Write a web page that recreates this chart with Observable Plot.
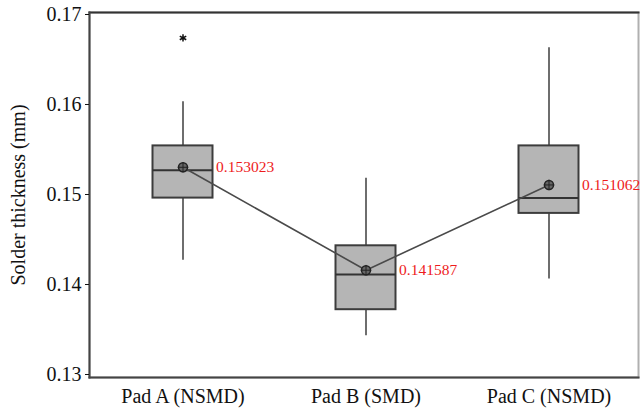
<!DOCTYPE html>
<html>
<head>
<meta charset="utf-8">
<script src="https://cdn.jsdelivr.net/npm/d3@7"></script>
<script src="https://cdn.jsdelivr.net/npm/@observablehq/plot@0.6"></script>
<style>
  html, body { margin: 0; padding: 0; background: #fff; }
  #chart svg { display: block; }
  #chart svg, #chart svg text, #chart svg g { font-family: "Liberation Serif", "DejaVu Serif", serif !important; }
</style>
</head>
<body>
<div id="chart"></div>
<script>
// Solder thickness by pad type: box plots with connected means
const categories = ["Pad A (NSMD)", "Pad B (SMD)", "Pad C (NSMD)"];
const whiskerLow = [0.1427, 0.1343, 0.1406];
const q1 = [0.1496, 0.1372, 0.1479];
const median = [0.1527, 0.1411, 0.1496];
const q3 = [0.1554, 0.1443, 0.1554];
const whiskerHigh = [0.1603, 0.1518, 0.1663];
const means = [0.153023, 0.141587, 0.151062];
const outlierCategory = ["Pad A (NSMD)"];
const outlierValue = [0.1674];
const yTicks = [0.13, 0.14, 0.15, 0.16, 0.17];

const boxes = categories.map((c, i) => ({
  pad: c, lo: whiskerLow[i], q1: q1[i], med: median[i], q3: q3[i], hi: whiskerHigh[i], mean: means[i]
}));
const outliers = outlierCategory.map((c, i) => ({pad: c, value: outlierValue[i]}));

const serif = "Liberation Serif";
const boxInset = 61.5;

const chart = Plot.plot({
  width: 640,
  height: 412,
  marginLeft: 89,
  marginRight: 2,
  marginTop: 12,
  marginBottom: 35,
  style: {background: "#fff", fontFamily: serif},
  x: {domain: categories, padding: 0, range: [90.5, 639.5]},
  y: {domain: [0.129667, 0.170222]},
  marks: [
    Plot.frame({stroke: "#b0b0b0", strokeWidth: 2}),
    Plot.frame({anchor: "top", stroke: "#333", strokeWidth: 2}),
    Plot.frame({anchor: "left", stroke: "#444", strokeWidth: 2}),
    Plot.frame({anchor: "bottom", stroke: "#444", strokeWidth: 2}),
    Plot.axisY({
      ticks: yTicks, tickFormat: d => d.toFixed(2), tickSize: 4, tickPadding: 4,
      fontSize: 20, color: "#111", label: null, fontFamily: serif
    }),
    Plot.axisX({tickSize: 0, tickPadding: 11, fontSize: 20, color: "#111", label: null, fontFamily: serif}),
    Plot.text(["Solder thickness (mm)"], {
      frameAnchor: "left", dx: -71, rotate: -90, fontSize: 20, fill: "#111",
      textAnchor: "middle", lineAnchor: "middle", fontFamily: serif
    }),
    Plot.ruleX(boxes, {x: "pad", y1: "lo", y2: "hi", stroke: "#4a4a4a", strokeWidth: 1.6}),
    Plot.barY(boxes, {
      x: "pad", y1: "q1", y2: "q3", fill: "#b5b5b5", stroke: "#3c3c3c", strokeWidth: 2,
      insetLeft: boxInset, insetRight: boxInset
    }),
    Plot.tickY(boxes, {
      x: "pad", y: "med", stroke: "#333", strokeWidth: 2,
      insetLeft: boxInset, insetRight: boxInset
    }),
    Plot.line(boxes, {x: "pad", y: "mean", stroke: "#4a4a4a", strokeWidth: 1.6}),
    Plot.dot(boxes, {x: "pad", y: "mean", r: 4.5, fill: "#666", stroke: "#222", strokeWidth: 1.5}),
    Plot.dot(boxes, {x: "pad", y: "mean", symbol: "plus", r: 3.5, stroke: "#222", strokeWidth: 1}),
    Plot.dot(outliers, {x: "pad", y: "value", symbol: "asterisk", r: 3.5, stroke: "#111", strokeWidth: 1.5}),
    Plot.text(boxes, {
      x: "pad", y: "mean", text: d => d.mean.toFixed(6), dx: 33, textAnchor: "start",
      fill: "#ee1c1c", fontSize: 15.5, fontFamily: serif
    })
  ]
});

document.getElementById("chart").appendChild(chart);
</script>
</body>
</html>
